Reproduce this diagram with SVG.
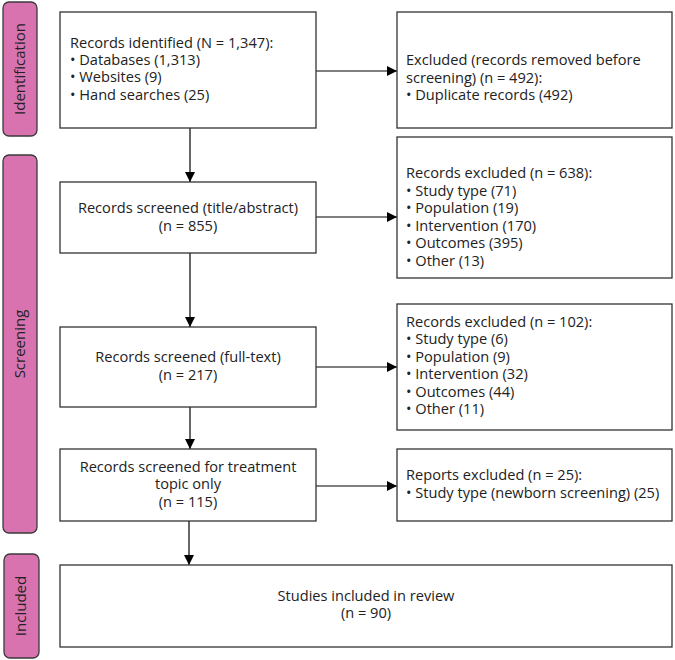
<svg xmlns="http://www.w3.org/2000/svg" width="675" height="660" viewBox="0 0 675 660">
<defs>
<marker id="ah" viewBox="0 0 10 10" refX="10" refY="5" markerWidth="10" markerHeight="10" markerUnits="userSpaceOnUse" orient="auto">
<path d="M0,0 L10,5 L0,10 z" fill="#000"/>
</marker>
</defs>
<style>
.box{fill:#fff;stroke:#333;stroke-width:1.3}
.side{fill:#D873B0;stroke:#3a3a3a;stroke-width:1.3}
text{font-family:"Open Sans","Noto Sans","Liberation Sans",sans-serif;font-size:14.6px;fill:#222}
.c{text-anchor:middle}
.lbl{font-size:15px;text-anchor:middle}
.con{stroke:#000;stroke-width:1.2;fill:none;marker-end:url(#ah)}
</style>
<rect width="675" height="660" fill="#fff"/>
<g id="phase-identification">
<rect class="side" x="3" y="2" width="34" height="134" rx="6"/>
<text class="lbl" transform="translate(25,69) rotate(-90)">Identification</text>
</g>
<g id="phase-screening">
<rect class="side" x="3" y="155" width="34" height="378" rx="6"/>
<text class="lbl" transform="translate(25,344) rotate(-90)">Screening</text>
</g>
<g id="phase-included">
<rect class="side" x="4" y="554" width="35" height="104" rx="6"/>
<text class="lbl" transform="translate(26,606) rotate(-90)">Included</text>
</g>
<g id="connectors">
<line class="con" x1="316" y1="71" x2="397" y2="71"/>
<line class="con" x1="190" y1="128" x2="190" y2="182"/>
<line class="con" x1="316" y1="217" x2="397" y2="217"/>
<line class="con" x1="190" y1="253" x2="190" y2="327"/>
<line class="con" x1="316" y1="367" x2="397" y2="367"/>
<line class="con" x1="190" y1="407" x2="190" y2="449"/>
<line class="con" x1="316" y1="486" x2="397" y2="486"/>
<line class="con" x1="189" y1="521" x2="189" y2="565"/>
</g>
<g id="identified">
<rect class="box" x="60" y="12" width="256" height="116"/>
<text x="70" y="48">Records identified (N = 1,347):</text>
<text x="70" y="65">• Databases (1,313)</text>
<text x="70" y="82">• Websites (9)</text>
<text x="70" y="100">• Hand searches (25)</text>
</g>
<g id="removed">
<rect class="box" x="397" y="12" width="275" height="116"/>
<text x="406" y="65">Excluded (records removed before</text>
<text x="406" y="83">screening) (n = 492):</text>
<text x="406" y="100">• Duplicate records (492)</text>
</g>
<g id="screened-title">
<rect class="box" x="60" y="182" width="256" height="71"/>
<text class="c" x="188" y="213">Records screened (title/abstract)</text>
<text class="c" x="188" y="231">(n = 855)</text>
</g>
<g id="excluded-638">
<rect class="box" x="397" y="137" width="275" height="141"/>
<text x="406" y="178">Records excluded (n = 638):</text>
<text x="406" y="196">• Study type (71)</text>
<text x="406" y="213">• Population (19)</text>
<text x="406" y="231">• Intervention (170)</text>
<text x="406" y="248">• Outcomes (395)</text>
<text x="406" y="266">• Other (13)</text>
</g>
<g id="screened-full">
<rect class="box" x="60" y="327" width="256" height="80"/>
<text class="c" x="188" y="362">Records screened (full-text)</text>
<text class="c" x="188" y="380">(n = 217)</text>
</g>
<g id="excluded-102">
<rect class="box" x="397" y="304" width="275" height="126"/>
<text x="406" y="327">Records excluded (n = 102):</text>
<text x="406" y="344">• Study type (6)</text>
<text x="406" y="362">• Population (9)</text>
<text x="406" y="379">• Intervention (32)</text>
<text x="406" y="397">• Outcomes (44)</text>
<text x="406" y="414">• Other (11)</text>
</g>
<g id="screened-treatment">
<rect class="box" x="60" y="449" width="256" height="72"/>
<text class="c" x="188" y="472">Records screened for treatment</text>
<text class="c" x="188" y="489">topic only</text>
<text class="c" x="188" y="507">(n = 115)</text>
</g>
<g id="reports-excluded">
<rect class="box" x="397" y="449" width="275" height="72"/>
<text x="406" y="480">Reports excluded (n = 25):</text>
<text x="406" y="498">• Study type (newborn screening) (25)</text>
</g>
<g id="included">
<rect class="box" x="60" y="565" width="612" height="82"/>
<text class="c" x="366" y="601">Studies included in review</text>
<text class="c" x="366" y="618">(n = 90)</text>
</g>
</svg>
